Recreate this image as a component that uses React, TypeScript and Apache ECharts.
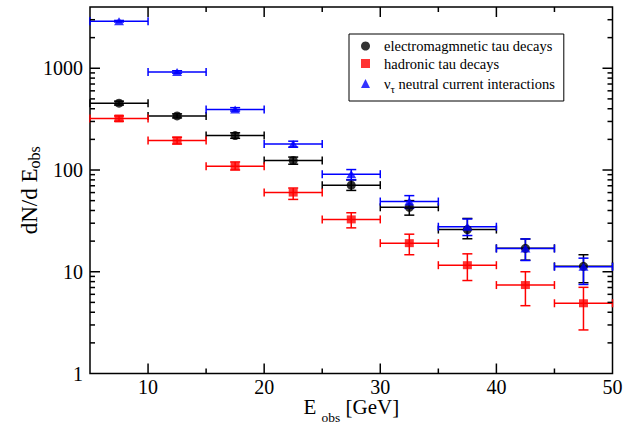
import React, { useEffect, useRef } from 'react';
import * as echarts from 'echarts';

// ---- data ----
const binCenters = [7.5, 12.5, 17.5, 22.5, 27.5, 32.5, 37.5, 42.5, 47.5];
const binHalfWidth = 2.5;

const emValues = [454, 340, 218, 124, 71, 43, 26, 17, 11.3];
const emLow = [435, 325, 205, 114, 63, 36, 21.1, 13, 7.8];
const emHigh = [475, 356, 232, 134, 80, 50, 33.4, 21, 14.7];

const hadValues = [321, 195, 109, 60, 32.7, 19.1, 11.6, 7.4, 4.9];
const hadLow = [302, 180, 100, 51.4, 27, 14.7, 8.2, 4.64, 2.68];
const hadHigh = [340, 210, 120, 66.5, 38, 23.4, 15.0, 10.0, 7.03];

const ncValues = [2900, 920, 394, 180, 91, 49, 27.7, 16.9, 11.2];
const ncLow = [2850, 895, 380, 168, 80, 42, 22.7, 12.9, 7.5];
const ncHigh = [2950, 945, 410, 192, 101, 56, 33, 21, 13.6];

const xMajorTicks = [10, 20, 30, 40];
const xMinorTicks = [15, 25, 35, 45];
const yMajorTicks = [10, 100, 1000];
const yMinorTicks = [2, 3, 4, 5, 6, 7, 8, 9, 20, 30, 40, 50, 60, 70, 80, 90, 200, 300, 400, 500, 600, 700, 800, 900, 2000, 3000];
const xLabelValues = [10, 20, 30, 40, 50];
const yLabelValues = [1, 10, 100, 1000];

const X_MIN = 5;
const X_MAX = 50;
const Y_MIN = 1;
const Y_MAX = 4000;

const EM = 'electromagmnetic tau decays';
const HAD = 'hadronic tau decays';
const NC = 'nu_tau neutral current interactions';

const FONT = 'Liberation Serif, serif';

function errData(values: number[], low: number[], high: number[]) {
  return binCenters.map((c, i) => [c, values[i], low[i], high[i], binHalfWidth]);
}
function pointData(values: number[]) {
  return binCenters.map((c, i) => [c, values[i]]);
}

function makeErrRender(color: string) {
  return (params: any, api: any) => {
    const x = api.value(0);
    const y = api.value(1);
    const lo = api.value(2);
    const hi = api.value(3);
    const hw = api.value(4);
    const pl = api.coord([x - hw, y]);
    const pr = api.coord([x + hw, y]);
    const pb = api.coord([x, lo]);
    const pt = api.coord([x, hi]);
    const hc = 4;
    const vc = 5;
    const style = { stroke: color, lineWidth: 1.5, fill: null };
    return {
      type: 'group',
      children: [
        { type: 'line', shape: { x1: pl[0], y1: pl[1], x2: pr[0], y2: pr[1] }, style },
        { type: 'line', shape: { x1: pl[0], y1: pl[1] - hc, x2: pl[0], y2: pl[1] + hc }, style },
        { type: 'line', shape: { x1: pr[0], y1: pr[1] - hc, x2: pr[0], y2: pr[1] + hc }, style },
        { type: 'line', shape: { x1: pb[0], y1: pb[1], x2: pt[0], y2: pt[1] }, style },
        { type: 'line', shape: { x1: pb[0] - vc, y1: pb[1], x2: pb[0] + vc, y2: pb[1] }, style },
        { type: 'line', shape: { x1: pt[0] - vc, y1: pt[1], x2: pt[0] + vc, y2: pt[1] }, style },
      ],
    };
  };
}

function tickRender(params: any, api: any) {
  const cs = params.coordSys;
  const kind = api.value(2);
  const style = { stroke: '#000', lineWidth: 1.5, fill: null };
  if (kind < 2) {
    const len = kind === 0 ? 10 : 5;
    const p = api.coord([api.value(0), Y_MIN]);
    const bottom = cs.y + cs.height;
    const top = cs.y;
    return {
      type: 'group',
      children: [
        { type: 'line', shape: { x1: p[0], y1: bottom, x2: p[0], y2: bottom - len }, style },
        { type: 'line', shape: { x1: p[0], y1: top, x2: p[0], y2: top + len }, style },
      ],
    };
  }
  const len = kind === 2 ? 10 : 5;
  const p = api.coord([X_MIN, api.value(1)]);
  const left = cs.x;
  const right = cs.x + cs.width;
  return {
    type: 'group',
    children: [
      { type: 'line', shape: { x1: left, y1: p[1], x2: left + len, y2: p[1] }, style },
      { type: 'line', shape: { x1: right, y1: p[1], x2: right - len, y2: p[1] }, style },
    ],
  };
}

const tickData = [
  ...xMajorTicks.map((v) => [v, Y_MIN, 0]),
  ...xMinorTicks.map((v) => [v, Y_MIN, 1]),
  ...yMajorTicks.map((v) => [X_MIN, v, 2]),
  ...yMinorTicks.map((v) => [X_MIN, v, 3]),
];

export default function App() {
  const ref = useRef<HTMLDivElement>(null);
  useEffect(() => {
    if (!ref.current) return;
    const chart = echarts.init(ref.current, undefined, { renderer: 'svg' });
    const subStyle = (size: number, pad: number) => ({
      fontFamily: FONT,
      fontSize: size,
      color: '#000',
      padding: [pad, 0, 0, 0],
    });
    chart.setOption({
      animation: false,
      backgroundColor: '#fff',
      grid: {
        left: 90,
        right: 11.5,
        top: 7,
        bottom: 50.5,
        show: true,
        borderColor: '#000',
        borderWidth: 1.5,
        backgroundColor: 'transparent',
        outerBoundsMode: 'none',
        containLabel: false,
      },
      xAxis: {
        type: 'value',
        min: X_MIN,
        max: X_MAX,
        interval: 5,
        axisLine: { show: false },
        axisTick: { show: false },
        splitLine: { show: false },
        axisLabel: {
          color: '#000',
          fontFamily: FONT,
          fontSize: 20,
          lineHeight: 14,
          margin: 6,
          formatter: (v: number) => (xLabelValues.includes(Math.round(v)) ? String(Math.round(v)) : ''),
        },
        name: '{m|E }{sub|obs}{m| [GeV]}',
        nameLocation: 'middle',
        nameGap: 23,
        nameMoveOverlap: false,
        nameTextStyle: {
          color: '#000',
          fontFamily: FONT,
          fontSize: 21,
          lineHeight: 14,
          rich: {
            m: { fontFamily: FONT, fontSize: 21, color: '#000', lineHeight: 14, verticalAlign: 'top' },
            sub: { fontFamily: FONT, fontSize: 13.5, color: '#000', lineHeight: 13, verticalAlign: 'top', padding: [14, 0, 0, 0] },
          },
        },
      },
      yAxis: {
        type: 'log',
        logBase: 10,
        min: Y_MIN,
        max: Y_MAX,
        axisLine: { show: false },
        axisTick: { show: false },
        splitLine: { show: false },
        axisLabel: {
          color: '#000',
          fontFamily: FONT,
          fontSize: 20,
          margin: 7,
          formatter: (v: number) => {
            const r = Math.round(v);
            return yLabelValues.includes(r) && Math.abs(v - r) < 1e-6 * r ? String(r) : '';
          },
        },
        name: 'dN/d E{sub|obs}',
        nameLocation: 'middle',
        nameGap: 48,
        nameMoveOverlap: false,
        nameTextStyle: {
          color: '#000',
          fontFamily: FONT,
          fontSize: 23,
          rich: { sub: subStyle(16, 9.6) },
        },
      },
      legend: {
        data: [
          { name: EM, icon: 'circle' },
          { name: HAD, icon: 'rect' },
          { name: NC, icon: 'triangle' },
        ],
        orient: 'vertical',
        left: 349,
        top: 34,
        itemWidth: 9,
        itemHeight: 9,
        itemGap: 1.5,
        padding: [4, 9, 7, 12],
        borderColor: '#000',
        borderWidth: 1,
        backgroundColor: '#fff',
        selectedMode: false,
        textStyle: {
          color: '#000',
          fontFamily: FONT,
          fontSize: 14.5,
          lineHeight: 16,
          padding: [0, 0, 0, 9],
          rich: {
            sub: { fontFamily: FONT, fontSize: 11, color: '#000', lineHeight: 6, padding: [10, 0, 0, 0] },
          },
        },
        formatter: (name: string) => (name === NC ? 'ν{sub|τ} neutral current interactions' : name),
      },
      series: [
        {
          type: 'custom',
          name: 'ticks',
          renderItem: tickRender,
          data: tickData,
          silent: true,
          z: 5,
        },
        {
          type: 'custom',
          name: 'em-err',
          renderItem: makeErrRender('#000000'),
          data: errData(emValues, emLow, emHigh),
          encode: { x: 0, y: 1 },
          silent: true,
        },
        {
          type: 'scatter',
          name: EM,
          symbol: 'circle',
          symbolSize: 9,
          itemStyle: { color: '#000000' },
          data: pointData(emValues),
        },
        {
          type: 'custom',
          name: 'had-err',
          renderItem: makeErrRender('#ff0000'),
          data: errData(hadValues, hadLow, hadHigh),
          encode: { x: 0, y: 1 },
          silent: true,
        },
        {
          type: 'scatter',
          name: HAD,
          symbol: 'rect',
          symbolSize: [9, 8],
          itemStyle: { color: '#ff0000' },
          data: pointData(hadValues),
        },
        {
          type: 'custom',
          name: 'nc-err',
          renderItem: makeErrRender('#0000ff'),
          data: errData(ncValues, ncLow, ncHigh),
          encode: { x: 0, y: 1 },
          silent: true,
        },
        {
          type: 'scatter',
          name: NC,
          symbol: 'triangle',
          symbolSize: [10, 8],
          itemStyle: { color: '#0000ff' },
          data: pointData(ncValues),
        },
      ],
    });
    return () => chart.dispose();
  }, []);
  return (
    <div
      ref={ref}
      style={{ position: 'fixed', left: 0, top: 0, width: 624, height: 424, background: '#fff' }}
    />
  );
}
